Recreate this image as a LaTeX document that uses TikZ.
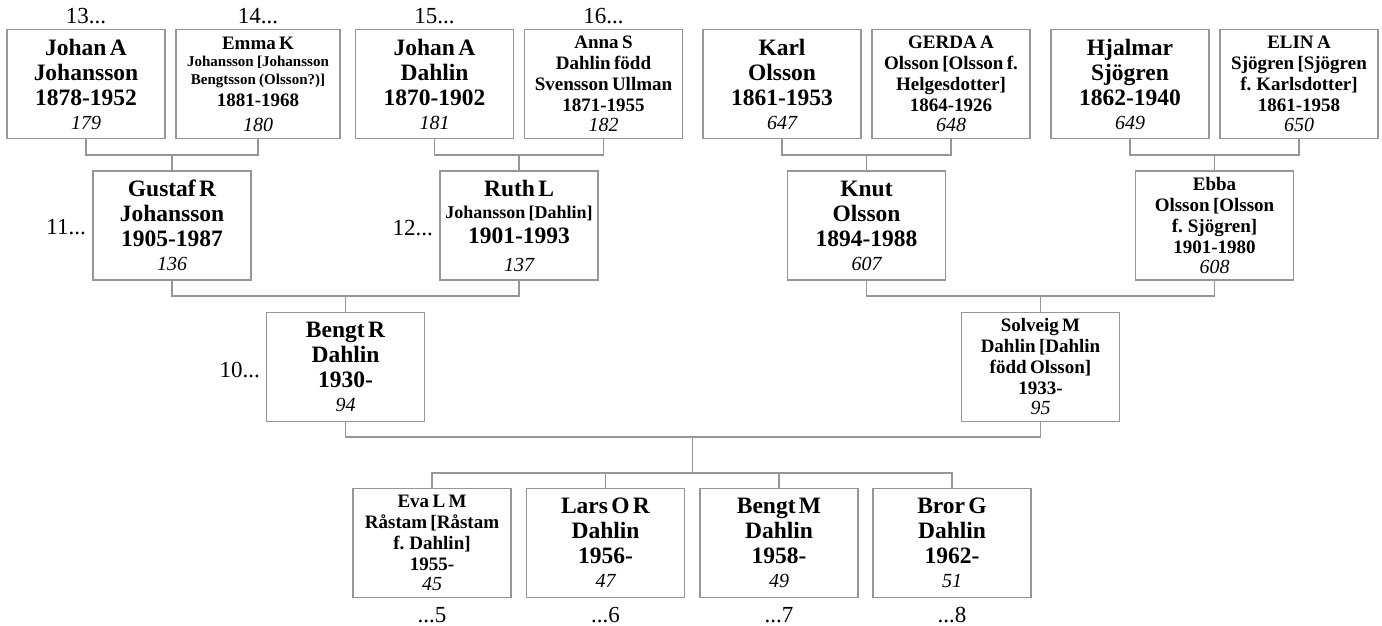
\documentclass[tikz,border=0pt]{standalone}
\usepackage{fontspec}
\setmainfont{Liberation Serif}
\definecolor{lngray}{RGB}{150,150,150}
\newcommand\tlLg[1]{{\fontsize{23.5}{25}\selectfont\bfseries #1\par}}
\newcommand\tlMd[2][21]{{\fontsize{19}{#1}\selectfont\bfseries #2\par}}
\newcommand\tlSm[2][17.5]{{\fontsize{15}{#1}\selectfont\bfseries #2\par}}
\newcommand\tlMid[1]{{\fontsize{18}{22}\selectfont\bfseries #1\par}}
\newcommand\tlNum[2][24]{{\fontsize{20}{#1}\selectfont\itshape #2\par}}
\tikzset{
  person/.style={draw=lngray, line width=1.3pt, text width=156pt, minimum height=109pt,
    inner xsep=1pt, inner ysep=0pt, align=center, text=black},
  conn/.style={draw=lngray, line width=1.5pt},
  gen/.style={font=\fontsize{23}{25}\selectfont, inner sep=0pt, text=black}
}
\begin{document}
\begin{tikzpicture}[x=1pt,y=-1pt]
\useasboundingbox (0,0) rectangle (1382,626);
% ---- top row (great-grandparents)
\node[person] (p179) at (86,84) {\tlLg{Johan A}\tlLg{Johansson}\tlLg{1878-1952}\tlNum{179}};
\node[person, text width=162pt] (p180) at (258,84) {\tlMd{Emma K}\tlSm{Johansson [Johansson}\tlSm{Bengtsson (Olsson?)]}\tlMd[22]{1881-1968}\tlNum[25]{180}};
\node[person] (p181) at (434.5,84) {\tlLg{Johan A}\tlLg{Dahlin}\tlLg{1870-1902}\tlNum{181}};
\node[person] (p182) at (603.5,84) {\tlMd{Anna S}\tlMd{Dahlin född}\tlMd{Svensson Ullman}\tlMd{1871-1955}\tlNum[20]{182}};
\node[person] (p647) at (782,84) {\tlLg{Karl}\tlLg{Olsson}\tlLg{1861-1953}\tlNum{647}};
\node[person] (p648) at (951,84) {\tlMd{GERDA A}\tlMd{Olsson [Olsson f.}\tlMd{Helgesdotter]}\tlMd{1864-1926}\tlNum[20]{648}};
\node[person] (p649) at (1130,84) {\tlLg{Hjalmar}\tlLg{Sjögren}\tlLg{1862-1940}\tlNum{649}};
\node[person] (p650) at (1299,84) {\tlMd{ELIN A}\tlMd{Sjögren [Sjögren}\tlMd{f. Karlsdotter]}\tlMd{1861-1958}\tlNum[20]{650}};
% ---- grandparents
\node[person] (p136) at (172,225.5) {\tlLg{Gustaf R}\tlLg{Johansson}\tlLg{1905-1987}\tlNum{136}};
\node[person] (p137) at (519,225.5) {\tlLg{Ruth L}\tlMid{Johansson [Dahlin]}\tlLg{1901-1993}\tlNum[28]{137}};
\node[person] (p607) at (866.5,225.5) {\tlLg{Knut}\tlLg{Olsson}\tlLg{1894-1988}\tlNum{607}};
\node[person] (p608) at (1214.5,225.5) {\tlMd{Ebba}\tlMd{Olsson [Olsson}\tlMd{f. Sjögren]}\tlMd{1901-1980}\tlNum[20]{608}};
% ---- parents
\node[person] (p94) at (345.5,367) {\tlLg{Bengt R}\tlLg{Dahlin}\tlLg{1930-}\tlNum{94}};
\node[person] (p95) at (1040.5,367) {\tlMd{Solveig M}\tlMd{Dahlin [Dahlin}\tlMd{född Olsson]}\tlMd{1933-}\tlNum[20]{95}};
% ---- children
\node[person] (p45) at (432,543) {\tlMd{Eva L M}\tlMd{Råstam [Råstam}\tlMd{f. Dahlin]}\tlMd{1955-}\tlNum[20]{45}};
\node[person] (p47) at (605.5,543) {\tlLg{Lars O R}\tlLg{Dahlin}\tlLg{1956-}\tlNum{47}};
\node[person] (p49) at (779,543) {\tlLg{Bengt M}\tlLg{Dahlin}\tlLg{1958-}\tlNum{49}};
\node[person] (p51) at (952,543) {\tlLg{Bror G}\tlLg{Dahlin}\tlLg{1962-}\tlNum{51}};
% ---- generation labels
\node[gen, anchor=base] (g13) at (86,24) {13...};
\node[gen, anchor=base] (g14) at (258,24) {14...};
\node[gen, anchor=base] (g15) at (434.5,24) {15...};
\node[gen, anchor=base] (g16) at (603.5,24) {16...};
\node[gen, anchor=base east] (g11) at (86,234) {11...};
\node[gen, anchor=base east] (g12) at (433,235) {12...};
\node[gen, anchor=base east] (g10) at (260,377) {10...};
\node[gen, anchor=base] (g5) at (432,622) {...5};
\node[gen, anchor=base] (g6) at (605.5,622) {...6};
\node[gen, anchor=base] (g7) at (779,622) {...7};
\node[gen, anchor=base] (g8) at (952,622) {...8};
% ---- junctions
\coordinate (j1) at (172,155);
\coordinate (j2) at (519,155);
\coordinate (j3) at (866.5,155);
\coordinate (j4) at (1214.5,155);
\coordinate (j5) at (345.5,296);
\coordinate (j6) at (1040.5,296);
\coordinate (j7) at (692.5,437);
\coordinate (j8) at (692.5,473);
% ---- connectors
\draw[conn] (p179.south) |- (j1) -| (p180.south);
\draw[conn] (j1) -- (p136.north);
\draw[conn] (p181.south) |- (j2) -| (p182.south);
\draw[conn] (j2) -- (p137.north);
\draw[conn] (p647.south) |- (j3) -| (p648.south);
\draw[conn] (j3) -- (p607.north);
\draw[conn] (p649.south) |- (j4) -| (p650.south);
\draw[conn] (j4) -- (p608.north);
\draw[conn] (p136.south) |- (j5) -| (p137.south);
\draw[conn] (j5) -- (p94.north);
\draw[conn] (p607.south) |- (j6) -| (p608.south);
\draw[conn] (j6) -- (p95.north);
\draw[conn] (p94.south) |- (j7) -| (p95.south);
\draw[conn] (j7) -- (j8);
\draw[conn] (p45.north) |- (j8) -| (p51.north);
\draw[conn] (p47.north) -- (p47.north |- j8);
\draw[conn] (p49.north) -- (p49.north |- j8);
\end{tikzpicture}
\end{document}
